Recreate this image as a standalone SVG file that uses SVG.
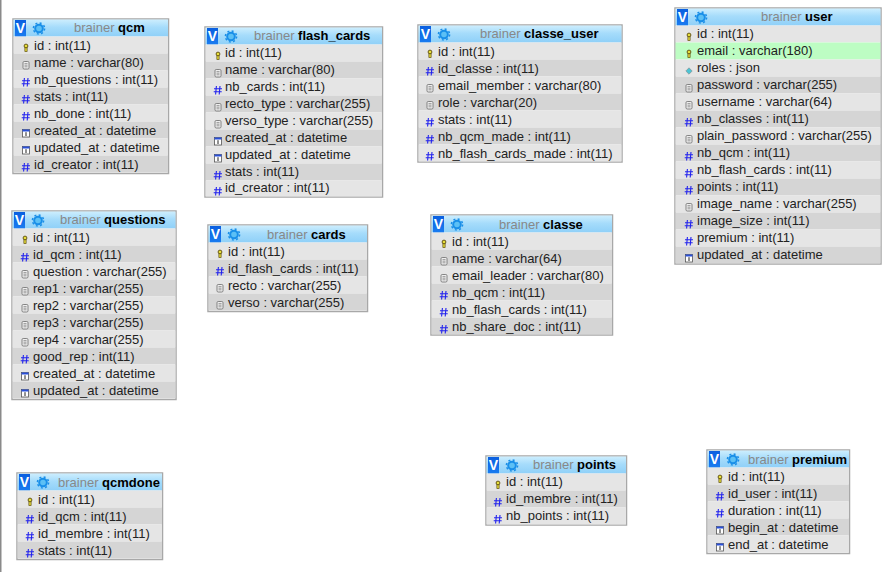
<svg xmlns="http://www.w3.org/2000/svg" width="891" height="572" viewBox="0 0 891 572">
<style>
text{font-family:"Liberation Sans",Arial,sans-serif;font-size:13px;fill:#222}
.b{fill:#fff;stroke:#a8a8a8;stroke-width:1.5}
.a{fill:#e5e5e5}.d{fill:#d5d5d5}.g{fill:#bdfdc3}
.t{fill:#888;font-size:13px}.t tspan{fill:#000;font-weight:bold}
.v{fill:#fff;font-weight:bold;font-size:14px;text-anchor:middle}
#node-flash_cards text:not(.t):not(.v),#node-user text:not(.t):not(.v),#node-points text:not(.t):not(.v){transform:translateY(-1px)}
</style>
<defs>
<linearGradient id="hd" x1="0" y1="0" x2="0" y2="1"><stop offset="0" stop-color="#cdeefe"/><stop offset=".45" stop-color="#a6dcfb"/><stop offset="1" stop-color="#8fd0f8"/></linearGradient>
<linearGradient id="vb" x1="0" y1="0" x2="0" y2="1"><stop offset="0" stop-color="#0a5fe0"/><stop offset="1" stop-color="#1a7cf0"/></linearGradient>
<g id="logo"><circle cx="26" cy="9.500" r="3.800" fill="#5cc0f5" stroke="#1a8fe8" stroke-width="2"/><circle cx="26" cy="9.500" r="5.600" fill="none" stroke="#1a8fe8" stroke-width="1.500" stroke-dasharray="2 2.400"/></g>
<g id="key" transform="translate(1 1)"><circle cx="0" cy="-2" r="1.900" fill="#e8e03a" stroke="#5a4a10" stroke-width=".9"/><rect x="-1.100" y="-.2" width="2.200" height="3.800" fill="#e8e03a" stroke="#5a4a10" stroke-width=".7"/></g>
<g id="doc" transform="translate(1 1)"><rect x="-3" y="-3.500" width="6" height="7.500" rx="1.200" fill="#eee" stroke="#777" stroke-width=".9"/><path d="M-1.500-1.400h3M-1.500.2h3M-1.500 1.800h3" stroke="#777" stroke-width=".7"/></g>
<g id="num" transform="translate(1 1)"><path d="M-1.600-4-2.400 4.500M2-4 1.200 4.500M-4-1.300H4M-4.300 1.800H3.700" stroke="#2222ee" stroke-width="1.100" fill="none"/></g>
<g id="cal" transform="translate(1 1)"><rect x="-3.500" y="-3.500" width="7" height="7.500" fill="#fff" stroke="#555" stroke-width=".8"/><rect x="-3.500" y="-3.500" width="7" height="2" fill="#2a50d8"/><path d="M0-.8V3" stroke="#222" stroke-width="1"/></g>
<g id="json" transform="translate(1 1)"><path d="M0-3.200 3.200 0 0 3.200-3.200 0Z" fill="#4cc4d4" stroke="#888" stroke-width=".6"/></g>
<g id="vi"><rect x="2" y="1" width="11" height="16.500" fill="url(#vb)"/></g>
</defs>

<rect x="0" y="0" width="1.500" height="572" fill="#8a8a8a"/>

<g id="node-qcm" transform="translate(13 19)">
<rect class="b" width="155.500" height="154.500"/>
<rect x=".5" y=".5" width="154.500" height="17" fill="url(#hd)"/><use href="#vi"/><text class="v" x="7.500" y="14">V</text><use href="#logo"/>
<text class="t" x="61" y="13">brainer <tspan>qcm</tspan></text>
<rect class="a" x=".5" y="17.500" width="154.500" height="17"/><use href="#key" x="12" y="28"/><text x="21" y="31">id : int(11)</text>
<rect class="d" x=".5" y="34.500" width="154.500" height="17"/><use href="#doc" x="12" y="45"/><text x="21" y="48">name : varchar(80)</text>
<rect class="a" x=".5" y="51.500" width="154.500" height="17"/><use href="#num" x="12" y="62"/><text x="21" y="65">nb_questions : int(11)</text>
<rect class="d" x=".5" y="68.500" width="154.500" height="17"/><use href="#num" x="12" y="79"/><text x="21" y="82">stats : int(11)</text>
<rect class="a" x=".5" y="85.500" width="154.500" height="17"/><use href="#num" x="12" y="96"/><text x="21" y="99">nb_done : int(11)</text>
<rect class="d" x=".5" y="102.500" width="154.500" height="17"/><use href="#cal" x="12" y="113"/><text x="21" y="116">created_at : datetime</text>
<rect class="a" x=".5" y="119.500" width="154.500" height="17"/><use href="#cal" x="12" y="130"/><text x="21" y="133">updated_at : datetime</text>
<rect class="d" x=".5" y="136.500" width="154.500" height="17"/><use href="#num" x="12" y="147"/><text x="21" y="150">id_creator : int(11)</text>
</g>

<g id="node-flash_cards" transform="translate(205 27)">
<rect class="b" width="177.500" height="170"/>
<rect x=".5" y=".5" width="176.500" height="17" fill="url(#hd)"/><use href="#vi"/><text class="v" x="7.500" y="14">V</text><use href="#logo"/>
<text class="t" x="49" y="13">brainer <tspan>flash_cards</tspan></text>
<rect class="a" x=".5" y="17.500" width="176.500" height="17"/><use href="#key" x="12" y="28"/><text x="20" y="31">id : int(11)</text>
<rect class="d" x=".5" y="34.500" width="176.500" height="17"/><use href="#doc" x="12" y="45"/><text x="20" y="48">name : varchar(80)</text>
<rect class="a" x=".5" y="51.500" width="176.500" height="17"/><use href="#num" x="12" y="62"/><text x="20" y="65">nb_cards : int(11)</text>
<rect class="d" x=".5" y="68.500" width="176.500" height="17"/><use href="#doc" x="12" y="79"/><text x="20" y="82">recto_type : varchar(255)</text>
<rect class="a" x=".5" y="85.500" width="176.500" height="17"/><use href="#doc" x="12" y="96"/><text x="20" y="99">verso_type : varchar(255)</text>
<rect class="d" x=".5" y="102.500" width="176.500" height="17"/><use href="#cal" x="12" y="113"/><text x="20" y="116">created_at : datetime</text>
<rect class="a" x=".5" y="119.500" width="176.500" height="17"/><use href="#cal" x="12" y="130"/><text x="20" y="133">updated_at : datetime</text>
<rect class="d" x=".5" y="136.500" width="176.500" height="17"/><use href="#num" x="12" y="147"/><text x="20" y="150">stats : int(11)</text>
<rect class="a" x=".5" y="153.500" width="176.500" height="16"/><use href="#num" x="12" y="163"/><text x="20" y="166">id_creator : int(11)</text>
</g>

<g id="node-classe_user" transform="translate(418 25)">
<rect class="b" width="204" height="137"/>
<rect x=".5" y=".5" width="203" height="17" fill="url(#hd)"/><use href="#vi"/><text class="v" x="7.500" y="14">V</text><use href="#logo"/>
<text class="t" x="62" y="13">brainer <tspan>classe_user</tspan></text>
<rect class="a" x=".5" y="17.500" width="203" height="17"/><use href="#key" x="11" y="28"/><text x="20" y="31">id : int(11)</text>
<rect class="d" x=".5" y="34.500" width="203" height="17"/><use href="#num" x="11" y="45"/><text x="20" y="48">id_classe : int(11)</text>
<rect class="a" x=".5" y="51.500" width="203" height="17"/><use href="#doc" x="11" y="62"/><text x="20" y="65">email_member : varchar(80)</text>
<rect class="d" x=".5" y="68.500" width="203" height="17"/><use href="#doc" x="11" y="79"/><text x="20" y="82">role : varchar(20)</text>
<rect class="a" x=".5" y="85.500" width="203" height="17"/><use href="#num" x="11" y="96"/><text x="20" y="99">stats : int(11)</text>
<rect class="d" x=".5" y="102.500" width="203" height="17"/><use href="#num" x="11" y="113"/><text x="20" y="116">nb_qcm_made : int(11)</text>
<rect class="a" x=".5" y="119.500" width="203" height="17"/><use href="#num" x="11" y="130"/><text x="20" y="133">nb_flash_cards_made : int(11)</text>
</g>

<g id="node-user" transform="translate(675 8)">
<rect class="b" width="206" height="256"/>
<rect x=".5" y=".5" width="205" height="17" fill="url(#hd)"/><use href="#vi"/><text class="v" x="7.500" y="14">V</text><use href="#logo"/>
<text class="t" x="86" y="13">brainer <tspan>user</tspan></text>
<rect class="a" x=".5" y="17.500" width="205" height="17"/><use href="#key" x="13" y="28"/><text x="22" y="31">id : int(11)</text>
<rect class="g" x=".5" y="34.500" width="205" height="17"/><use href="#key" x="13" y="45"/><text x="22" y="48">email : varchar(180)</text>
<rect class="a" x=".5" y="51.500" width="205" height="17"/><use href="#json" x="13" y="62"/><text x="22" y="65">roles : json</text>
<rect class="d" x=".5" y="68.500" width="205" height="17"/><use href="#doc" x="13" y="79"/><text x="22" y="82">password : varchar(255)</text>
<rect class="a" x=".5" y="85.500" width="205" height="17"/><use href="#doc" x="13" y="96"/><text x="22" y="99">username : varchar(64)</text>
<rect class="d" x=".5" y="102.500" width="205" height="17"/><use href="#num" x="13" y="113"/><text x="22" y="116">nb_classes : int(11)</text>
<rect class="a" x=".5" y="119.500" width="205" height="17"/><use href="#doc" x="13" y="130"/><text x="22" y="133">plain_password : varchar(255)</text>
<rect class="d" x=".5" y="136.500" width="205" height="17"/><use href="#num" x="13" y="147"/><text x="22" y="150">nb_qcm : int(11)</text>
<rect class="a" x=".5" y="153.500" width="205" height="17"/><use href="#num" x="13" y="164"/><text x="22" y="167">nb_flash_cards : int(11)</text>
<rect class="d" x=".5" y="170.500" width="205" height="17"/><use href="#num" x="13" y="181"/><text x="22" y="184">points : int(11)</text>
<rect class="a" x=".5" y="187.500" width="205" height="17"/><use href="#doc" x="13" y="198"/><text x="22" y="201">image_name : varchar(255)</text>
<rect class="d" x=".5" y="204.500" width="205" height="17"/><use href="#num" x="13" y="215"/><text x="22" y="218">image_size : int(11)</text>
<rect class="a" x=".5" y="221.500" width="205" height="17"/><use href="#num" x="13" y="232"/><text x="22" y="235">premium : int(11)</text>
<rect class="d" x=".5" y="238.500" width="205" height="17"/><use href="#cal" x="13" y="249"/><text x="22" y="252">updated_at : datetime</text>
</g>

<g id="node-questions" transform="translate(12 211)">
<rect class="b" width="164" height="188.500"/>
<rect x=".5" y=".5" width="163" height="17" fill="url(#hd)"/><use href="#vi"/><text class="v" x="7.500" y="14">V</text><use href="#logo"/>
<text class="t" x="48" y="13">brainer <tspan>questions</tspan></text>
<rect class="a" x=".5" y="17.500" width="163" height="17"/><use href="#key" x="12" y="28"/><text x="21" y="31">id : int(11)</text>
<rect class="d" x=".5" y="34.500" width="163" height="17"/><use href="#num" x="12" y="45"/><text x="21" y="48">id_qcm : int(11)</text>
<rect class="a" x=".5" y="51.500" width="163" height="17"/><use href="#doc" x="12" y="62"/><text x="21" y="65">question : varchar(255)</text>
<rect class="d" x=".5" y="68.500" width="163" height="17"/><use href="#doc" x="12" y="79"/><text x="21" y="82">rep1 : varchar(255)</text>
<rect class="a" x=".5" y="85.500" width="163" height="17"/><use href="#doc" x="12" y="96"/><text x="21" y="99">rep2 : varchar(255)</text>
<rect class="d" x=".5" y="102.500" width="163" height="17"/><use href="#doc" x="12" y="113"/><text x="21" y="116">rep3 : varchar(255)</text>
<rect class="a" x=".5" y="119.500" width="163" height="17"/><use href="#doc" x="12" y="130"/><text x="21" y="133">rep4 : varchar(255)</text>
<rect class="d" x=".5" y="136.500" width="163" height="17"/><use href="#num" x="12" y="147"/><text x="21" y="150">good_rep : int(11)</text>
<rect class="a" x=".5" y="153.500" width="163" height="17"/><use href="#cal" x="12" y="164"/><text x="21" y="167">created_at : datetime</text>
<rect class="d" x=".5" y="170.500" width="163" height="17"/><use href="#cal" x="12" y="181"/><text x="21" y="184">updated_at : datetime</text>
</g>

<g id="node-cards" transform="translate(208 225)">
<rect class="b" width="159.500" height="86.500"/>
<rect x=".5" y=".5" width="158.500" height="17" fill="url(#hd)"/><use href="#vi"/><text class="v" x="7.500" y="14">V</text><use href="#logo"/>
<text class="t" x="59" y="14">brainer <tspan>cards</tspan></text>
<rect class="a" x=".5" y="17.500" width="158.500" height="17"/><use href="#key" x="11" y="28"/><text x="20" y="31">id : int(11)</text>
<rect class="d" x=".5" y="34.500" width="158.500" height="17"/><use href="#num" x="11" y="45"/><text x="20" y="48">id_flash_cards : int(11)</text>
<rect class="a" x=".5" y="51.500" width="158.500" height="17"/><use href="#doc" x="11" y="62"/><text x="20" y="65">recto : varchar(255)</text>
<rect class="d" x=".5" y="68.500" width="158.500" height="17"/><use href="#doc" x="11" y="79"/><text x="20" y="82">verso : varchar(255)</text>
</g>

<g id="node-classe" transform="translate(431 215)">
<rect class="b" width="181.500" height="120"/>
<rect x=".5" y=".5" width="180.500" height="17" fill="url(#hd)"/><use href="#vi"/><text class="v" x="7.500" y="14">V</text><use href="#logo"/>
<text class="t" x="68" y="14">brainer <tspan>classe</tspan></text>
<rect class="a" x=".5" y="17.500" width="180.500" height="17"/><use href="#key" x="12" y="28"/><text x="21" y="31">id : int(11)</text>
<rect class="d" x=".5" y="34.500" width="180.500" height="17"/><use href="#doc" x="12" y="45"/><text x="21" y="48">name : varchar(64)</text>
<rect class="a" x=".5" y="51.500" width="180.500" height="17"/><use href="#doc" x="12" y="62"/><text x="21" y="65">email_leader : varchar(80)</text>
<rect class="d" x=".5" y="68.500" width="180.500" height="17"/><use href="#num" x="12" y="79"/><text x="21" y="82">nb_qcm : int(11)</text>
<rect class="a" x=".5" y="85.500" width="180.500" height="17"/><use href="#num" x="12" y="96"/><text x="21" y="99">nb_flash_cards : int(11)</text>
<rect class="d" x=".5" y="102.500" width="180.500" height="17"/><use href="#num" x="12" y="113"/><text x="21" y="116">nb_share_doc : int(11)</text>
</g>

<g id="node-qcmdone" transform="translate(17 473)">
<rect class="b" width="145.500" height="86.500"/>
<rect x=".5" y=".5" width="144.500" height="17" fill="url(#hd)"/><use href="#vi"/><text class="v" x="7.500" y="14">V</text><use href="#logo"/>
<text class="t" x="41" y="14">brainer <tspan>qcmdone</tspan></text>
<rect class="a" x=".5" y="17.500" width="144.500" height="17"/><use href="#key" x="12" y="28"/><text x="21" y="31">id : int(11)</text>
<rect class="d" x=".5" y="34.500" width="144.500" height="17"/><use href="#num" x="12" y="45"/><text x="21" y="48">id_qcm : int(11)</text>
<rect class="a" x=".5" y="51.500" width="144.500" height="17"/><use href="#num" x="12" y="62"/><text x="21" y="65">id_membre : int(11)</text>
<rect class="d" x=".5" y="68.500" width="144.500" height="17"/><use href="#num" x="12" y="79"/><text x="21" y="82">stats : int(11)</text>
</g>

<g id="node-points" transform="translate(486 456)">
<rect class="b" width="140.500" height="69"/>
<rect x=".5" y=".5" width="139.500" height="17" fill="url(#hd)"/><use href="#vi"/><text class="v" x="7.500" y="14">V</text><use href="#logo"/>
<text class="t" x="47" y="13">brainer <tspan>points</tspan></text>
<rect class="a" x=".5" y="17.500" width="139.500" height="17"/><use href="#key" x="11" y="28"/><text x="20" y="31">id : int(11)</text>
<rect class="d" x=".5" y="34.500" width="139.500" height="17"/><use href="#num" x="11" y="45"/><text x="20" y="48">id_membre : int(11)</text>
<rect class="a" x=".5" y="51.500" width="139.500" height="17"/><use href="#num" x="11" y="62"/><text x="20" y="65">nb_points : int(11)</text>
</g>

<g id="node-premium" transform="translate(707 450)">
<rect class="b" width="142.500" height="103.500"/>
<rect x=".5" y=".5" width="141.500" height="17" fill="url(#hd)"/><use href="#vi"/><text class="v" x="7.500" y="14">V</text><use href="#logo"/>
<text class="t" x="41" y="14">brainer <tspan>premium</tspan></text>
<rect class="a" x=".5" y="17.500" width="141.500" height="17"/><use href="#key" x="12" y="28"/><text x="21" y="31">id : int(11)</text>
<rect class="d" x=".5" y="34.500" width="141.500" height="17"/><use href="#num" x="12" y="45"/><text x="21" y="48">id_user : int(11)</text>
<rect class="a" x=".5" y="51.500" width="141.500" height="17"/><use href="#num" x="12" y="62"/><text x="21" y="65">duration : int(11)</text>
<rect class="d" x=".5" y="68.500" width="141.500" height="17"/><use href="#cal" x="12" y="79"/><text x="21" y="82">begin_at : datetime</text>
<rect class="a" x=".5" y="85.500" width="141.500" height="17"/><use href="#cal" x="12" y="96"/><text x="21" y="99">end_at : datetime</text>
</g>

<g id="connectors"></g>
</svg>
